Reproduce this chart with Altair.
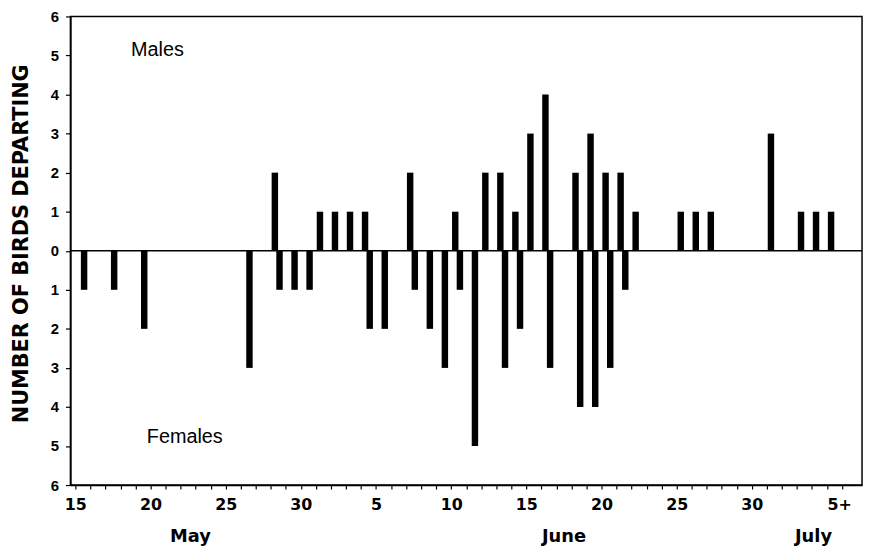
import altair as alt
import pandas as pd

# ---- data ----
day_labels = ["15", "20", "25", "30", "5", "10", "15", "20", "25", "30", "5+"]
male_days = [13, 16, 17, 18, 19, 22, 25, 27, 28, 29, 30, 31, 33, 34, 35, 36, 37, 40, 41, 42, 46, 48, 49, 50]
male_counts = [2, 1, 1, 1, 1, 2, 1, 2, 2, 1, 3, 4, 2, 3, 2, 2, 1, 1, 1, 1, 3, 1, 1, 1]
female_days = [0, 2, 4, 11, 13, 14, 15, 19, 20, 22, 23, 24, 25, 26, 28, 29, 31, 33, 34, 35, 36]
female_counts = [1, 1, 2, 3, 1, 1, 1, 2, 2, 1, 2, 3, 1, 5, 3, 2, 3, 4, 4, 3, 1]
months = ["May", "June", "July"]
month_days = [7.65, 32.5, 49.1]
group_labels = ["Males", "Females"]
group_days = [5.46, 7.28]
group_vals = [5.15, -4.76]

MALE_OFF = 0.27
FEMALE_OFF = 0.58

bars = pd.DataFrame(
    {
        "day": male_days + female_days,
        "count": male_counts + female_counts,
        "sex": ["M"] * len(male_days) + ["F"] * len(female_days),
    }
)

label_arr = "[" + ",".join("'" + s + "'" for s in day_labels) + "]"
label_expr = "datum.value % 5 == 0 ? " + label_arr + "[datum.value / 5] : ''"

xscale = alt.Scale(domain=[0, 52], nice=False, zero=False)
yscale = alt.Scale(domain=[-6, 6], nice=False)

xaxis = alt.Axis(
    values=list(range(0, 52)),
    labelExpr=label_expr,
    title=None,
    grid=False,
    tickSize=4,
    labelPadding=8,
    labelFlush=False,
    labelOverlap=False,
    labelAlign={"condition": {"test": "datum.value == 50", "value": "left"}, "value": "center"},
    labelFont="DejaVu Sans",
    labelFontWeight="bold",
    labelFontSize=16,
)
yaxis = alt.Axis(
    values=list(range(-6, 7)),
    labelExpr="'' + abs(datum.value)",
    title="NUMBER OF BIRDS DEPARTING",
    titleFont="DejaVu Sans",
    titleFontWeight="bold",
    titleFontSize=21,
    titleAngle=270,
    titleBaseline="alphabetic",
    titleX=-43,
    titleY=229,
    titleAlign="center",
    grid=False,
    tickSize=5,
    labelPadding=7,
    labelFont="Liberation Sans",
    labelFontWeight="bold",
    labelFontSize=15,
)

bar_layer = (
    alt.Chart(bars)
    .transform_calculate(
        x="datum.sex == 'M' ? datum.day + " + str(MALE_OFF) + " : datum.day + " + str(FEMALE_OFF),
        y="datum.sex == 'M' ? datum.count : -datum.count",
    )
    .mark_bar(size=6.5, color="black")
    .encode(
        x=alt.X("x:Q", scale=xscale, axis=xaxis),
        y=alt.Y("y:Q", scale=yscale, axis=yaxis),
    )
)

zero_rule = (
    alt.Chart(pd.DataFrame({"y": [0]}))
    .mark_rule(color="black", strokeWidth=1.5)
    .encode(y=alt.Y("y:Q", scale=yscale, axis=yaxis))
)

group_text = (
    alt.Chart(pd.DataFrame({"x": group_days, "y": group_vals, "t": group_labels}))
    .mark_text(font="Liberation Sans", fontSize=20, color="black", baseline="middle", align="center")
    .encode(
        x=alt.X("x:Q", scale=xscale, axis=xaxis),
        y=alt.Y("y:Q", scale=yscale, axis=yaxis),
        text="t:N",
    )
)

month_text = (
    alt.Chart(pd.DataFrame({"x": month_days, "y": [-7.47] * 3, "t": months}))
    .mark_text(font="DejaVu Sans", fontWeight="bold", fontSize=18, color="black",
               baseline="alphabetic", align="center")
    .encode(
        x=alt.X("x:Q", scale=xscale, axis=xaxis),
        y=alt.Y("y:Q", scale=yscale, axis=yaxis),
        text="t:N",
    )
)

chart = (
    alt.layer(bar_layer, zero_rule, group_text, month_text)
    .properties(
        width=799,
        height=473,
        autosize=alt.AutoSizeParams(type="none"),
        padding={"left": 63, "top": 6, "right": 4, "bottom": 60},
        background="white",
    )
    .configure_view(stroke="black", strokeWidth=1.5)
    .configure_axis(
        domainColor="black",
        domainWidth=1.5,
        tickColor="black",
        tickWidth=1.2,
        labelColor="black",
        titleColor="black",
    )
)

chart.save("out.html", embed_options={"renderer": "svg", "actions": False})
